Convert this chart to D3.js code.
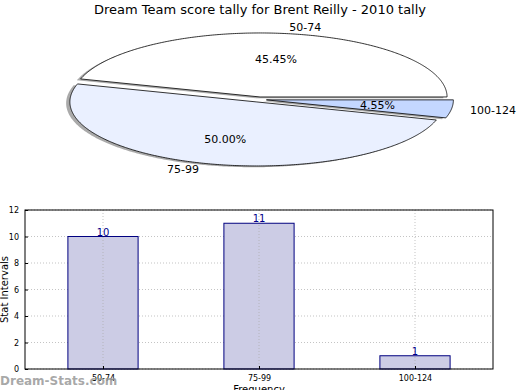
<!DOCTYPE html>
<html>
<head>
<meta charset="utf-8">
<script src="https://cdn.jsdelivr.net/npm/d3@7"></script>
<style>
  body { margin: 0; background: #fff; }
  svg { font-family: "DejaVu Sans", sans-serif; }
</style>
</head>
<body>
<svg></svg>
<script>
/* data */
var categories = ["50-74", "75-99", "100-124"];
var counts = [10, 11, 1];
var sliceColors = ["#ffffff", "#eaf0ff", "#c4d7ff"];
var yTicks = [0, 2, 4, 6, 8, 10, 12];
var title = "Dream Team score tally for Brent Reilly - 2010 tally";

svgWidth = 520;
svgHeight = 390;
var svg = d3.select("svg")
    .attr('width', svgWidth)
    .attr('height', svgHeight);

svg.append('text')
    .attr('x', 260).attr('y', 14)
    .attr('text-anchor', 'middle')
    .attr('font-size', 13)
    .text(title);

/* pie (matplotlib style, squashed to an ellipse) */
var pie = {cx: 259, cy: 99.5, rx: 187, ry: 64, explode: 0.04};
var px = d3.scaleLinear().domain([-1, 1]).range([pie.cx - pie.rx, pie.cx + pie.rx]);
var py = d3.scaleLinear().domain([-1, 1]).range([pie.cy + pie.ry, pie.cy - pie.ry]);

var total = d3.sum(counts);
var slices = [];
var acc = 0;
counts.forEach(function(v, i){
  var a0 = acc / total * 2 * Math.PI;
  acc += v;
  var a1 = acc / total * 2 * Math.PI;
  var mid = (a0 + a1) / 2;
  slices.push({i: i, a0: a0, a1: a1, mid: mid,
    dx: pie.explode * Math.cos(mid), dy: pie.explode * Math.sin(mid),
    pct: v / total * 100});
});

function slicePoints(s, ox, oy){
  var pts = [[s.dx + ox, s.dy + oy]];
  var n = Math.max(4, Math.ceil((s.a1 - s.a0) / 0.01));
  for (var k = 0; k <= n; k++){
    var a = s.a0 + (s.a1 - s.a0) * k / n;
    pts.push([s.dx + ox + Math.cos(a), s.dy + oy + Math.sin(a)]);
  }
  return pts;
}

var line = d3.line()
    .x(function(d){ return px(d[0]); })
    .y(function(d){ return py(d[1]); })
    .curve(d3.curveLinearClosed);

var pieG = svg.append('g');

// shadows
pieG.selectAll('path.shadow')
    .data(slices)
    .enter()
    .append('path')
    .attr('class', 'shadow')
    .attr('d', function(s){ return line(slicePoints(s, -0.02, -0.02)); })
    .attr('fill', '#555')
    .attr('fill-opacity', 0.5)
    .attr('stroke', 'none');

pieG.selectAll('path.slice')
    .data(slices)
    .enter()
    .append('path')
    .attr('class', 'slice')
    .attr('d', function(s){ return line(slicePoints(s, 0, 0)); })
    .attr('fill', function(s){ return sliceColors[s.i]; })
    .attr('stroke', '#000')
    .attr('stroke-width', 0.8);

pieG.selectAll('text.lab')
    .data(slices)
    .enter()
    .append('text')
    .attr('class', 'lab')
    .attr('x', function(s){ return px(s.dx + 1.1 * Math.cos(s.mid)); })
    .attr('y', function(s){ return py(s.dy + 1.1 * Math.sin(s.mid)); })
    .attr('dy', '0.35em')
    .attr('text-anchor', function(s){ return Math.cos(s.mid) > 0 ? 'start' : 'end'; })
    .attr('font-size', 11)
    .text(function(s){ return categories[s.i]; });

pieG.selectAll('text.pct')
    .data(slices)
    .enter()
    .append('text')
    .attr('class', 'pct')
    .attr('x', function(s){ return px(s.dx + 0.6 * Math.cos(s.mid)); })
    .attr('y', function(s){ return py(s.dy + 0.6 * Math.sin(s.mid)); })
    .attr('dy', '0.35em')
    .attr('text-anchor', 'middle')
    .attr('font-size', 11)
    .text(function(s){ return s.pct.toFixed(2) + '%'; });

/* bar chart */
var plot = {left: 25, right: 493, top: 210, bottom: 369};
var x = d3.scaleLinear().domain([-0.5, 2.5]).range([plot.left, plot.right]);
var y = d3.scaleLinear().domain([0, 12]).range([plot.bottom, plot.top]);
var barW = 0.45;

var barG = svg.append('g');

// grid
barG.selectAll('line.hgrid')
    .data(yTicks)
    .enter()
    .append('line')
    .attr('x1', plot.left).attr('x2', plot.right)
    .attr('y1', function(d){ return y(d); })
    .attr('y2', function(d){ return y(d); })
    .attr('stroke', '#aaa').attr('stroke-width', 0.7)
    .attr('stroke-dasharray', '1,2');

barG.selectAll('rect.bar')
    .data(counts)
    .enter()
    .append('rect')
    .attr('x', function(d, i){ return x(i - barW / 2); })
    .attr('y', function(d){ return y(d); })
    .attr('width', function(){ return x(barW) - x(0); })
    .attr('height', function(d){ return y(0) - y(d); })
    .attr('fill', '#ccccE5')
    .attr('stroke', '#000080')
    .attr('stroke-width', 1);

// vertical grid drawn over the bars
barG.selectAll('line.vgrid')
    .data(categories)
    .enter()
    .append('line')
    .attr('x1', function(d, i){ return x(i); })
    .attr('x2', function(d, i){ return x(i); })
    .attr('y1', plot.top).attr('y2', plot.bottom)
    .attr('stroke', '#aaa').attr('stroke-width', 0.7)
    .attr('stroke-dasharray', '1,2');

barG.selectAll('text.val')
    .data(counts)
    .enter()
    .append('text')
    .attr('x', function(d, i){ return x(i); })
    .attr('y', function(d){ return y(d) - 1; })
    .attr('text-anchor', 'middle')
    .attr('font-size', 10)
    .attr('fill', '#00008b')
    .text(function(d){ return d; });

// frame
barG.append('rect')
    .attr('x', plot.left).attr('y', plot.top)
    .attr('width', plot.right - plot.left)
    .attr('height', plot.bottom - plot.top)
    .attr('fill', 'none')
    .attr('stroke', '#000').attr('stroke-width', 1);

// y axis
var yAxis = d3.axisLeft(y).tickValues(yTicks).tickSizeInner(-3).tickSizeOuter(0).tickPadding(6);
var yG = svg.append('g')
    .attr('transform', 'translate(' + plot.left + ',0)')
    .call(yAxis);
yG.select('.domain').remove();
yG.selectAll('text').attr('font-size', 8).attr('font-family', 'DejaVu Sans');

// x axis
var xAxis = d3.axisBottom(x).tickValues([0, 1, 2])
    .tickFormat(function(d){ return categories[d]; })
    .tickSizeInner(-3).tickSizeOuter(0).tickPadding(6);
var xG = svg.append('g')
    .attr('transform', 'translate(0,' + plot.bottom + ')')
    .call(xAxis);
xG.select('.domain').remove();
xG.selectAll('text').attr('font-size', 8).attr('font-family', 'DejaVu Sans');

svg.append('text')
    .attr('x', 259).attr('y', 393)
    .attr('text-anchor', 'middle')
    .attr('font-size', 10)
    .text('Frequency');

svg.append('text')
    .attr('transform', 'translate(8,' + ((plot.top + plot.bottom) / 2) + ') rotate(-90)')
    .attr('text-anchor', 'middle')
    .attr('font-size', 10)
    .text('Stat Intervals');

// watermark
svg.append('text')
    .attr('x', 0).attr('y', 385)
    .attr('font-size', 12)
    .attr('font-weight', 'bold')
    .attr('fill', '#999')
    .attr('fill-opacity', 0.85)
    .text('Dream-Stats.com');
</script>
</body>
</html>
